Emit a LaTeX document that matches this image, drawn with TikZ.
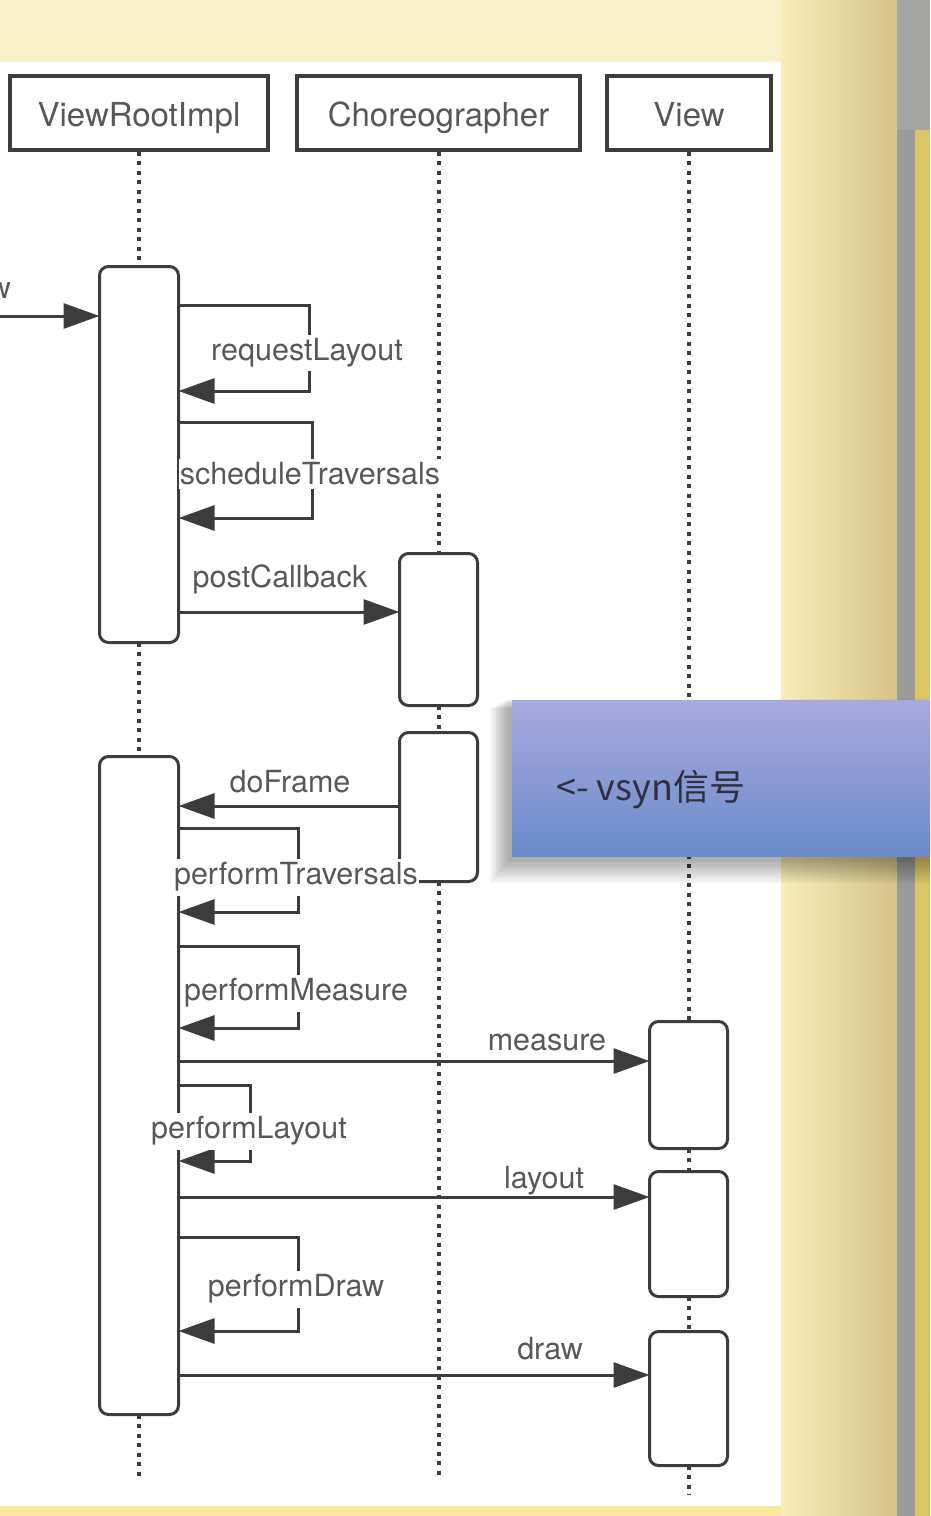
\documentclass[tikz,border=0pt]{standalone}
\usepackage{fontspec}
\setmainfont{TeX Gyre Heros}
\newfontfamily\cjk{Noto Sans CJK SC}
\usetikzlibrary{arrows.meta,calc}
\definecolor{ln}{HTML}{3C3C3C}
\definecolor{txt}{HTML}{585858}
\definecolor{bgtop}{HTML}{F8F0CA}
\definecolor{bgbot}{HTML}{FAE7A0}
\definecolor{frameR}{HTML}{D6C28A}
\definecolor{stripY}{HTML}{DCC664}
\definecolor{stripG}{HTML}{9A9A96}
\definecolor{vtop}{HTML}{A9A9DE}
\definecolor{vbot}{HTML}{6A8ACA}
\definecolor{vtxt}{HTML}{2E3040}
\tikzset{
  head/.style={draw=ln, line width=3.5pt, fill=white, font=\fontsize{33}{36}\selectfont, text=txt, minimum height=74pt, inner sep=0pt, text height=27pt, text depth=0pt},
  act/.style={draw=ln, line width=3pt, fill=white, rounded corners=9pt, minimum width=75pt, inner sep=0pt},
  life/.style={draw=ln, line width=4pt, dash pattern=on 4pt off 5.5pt},
  msg/.style={draw=ln, line width=3pt, -{Triangle[length=36pt,width=25pt]}},
  lbl/.style={font=\fontsize{30.5}{32}\selectfont, text=txt, fill=white, inner sep=1pt, inner ysep=4pt},
  lblt/.style={font=\fontsize{30.5}{32}\selectfont, text=txt, inner sep=1pt},
}
\begin{document}
\begin{tikzpicture}[x=1pt, y=-1pt]
\useasboundingbox (0,0) rectangle (930,1516);
% background frame
\shade[top color=bgtop, bottom color=bgbot] (0,0) rectangle (930,1516);
\shade[left color=bgbot!40!bgtop, right color=frameR] (781,0) rectangle (897,1516);
\fill[stripG] (897,0) rectangle (915,1516);
\fill[stripG!90] (897,0) rectangle (930,130);
\fill[stripY] (915,130) rectangle (930,1516);
\fill[white] (0,62) rectangle (781,1506);

% headers
\node[head, minimum width=258pt] (h1) at (139,113) {ViewRootImpl};
\node[head, minimum width=283pt] (h2) at (438.5,113) {Choreographer};
\node[head, minimum width=164pt] (h3) at (689,113) {View};

% end points of lifelines
\coordinate (e1) at (139,1478);
\coordinate (e2) at (438.5,1478);
\coordinate (e3) at (688.5,1495);
\coordinate (src) at (0,316);

% activations (positions)
\path
  node[act, minimum width=76pt, minimum height=373pt] (vri1) at (139,454.5) {}
  node[act, minimum height=149pt] (ch1) at (438.5,629.5) {}
  node[act, minimum width=76pt, minimum height=655pt] (vri2) at (139,1085.5) {}
  node[act, minimum height=146pt] (ch2) at (438.5,807) {}
  node[act, minimum height=124pt] (v1) at (688.5,1085) {}
  node[act, minimum height=122pt] (v2) at (688.5,1234) {}
  node[act, minimum height=131pt] (v3) at (688.5,1398.5) {};

% lifelines
\draw[life] (h1.south) -- (vri1.north);
\draw[life] (vri1.south) -- (vri2.north);
\draw[life] (vri2.south) -- (e1);
\draw[life] (h2.south -| ch1.north) -- (ch1.north);
\draw[life] (ch1.south) -- (ch2.north);
\draw[life] (ch2.south) -- (e2);
\draw[life] (h3.south -| v1.north) -- (v1.north);
\draw[life] (v1.south) -- (v2.north);
\draw[life] (v2.south) -- (v3.north);
\draw[life] (v3.south) -- (e3);

% redraw activations on top of lifelines
\foreach \n in {vri1,ch1,vri2,ch2,v1,v2,v3}{
  \draw[ln, line width=3pt, fill=white, rounded corners=9pt] (\n.south west) rectangle (\n.north east);
}

% incoming message
\node[lblt, anchor=base east] (w) at (12,298) {w};
\draw[msg] (src) -- (vri1.west |- src);

% self messages and calls
\draw[msg] (vri1.east |- 0,305) -- ++(131,0) |- (vri1.east |- 0,391);
\node[lbl] (l1) at (307,353) {requestLayout};
\draw[msg] (vri1.east |- 0,422) -- ++(134,0) |- (vri1.east |- 0,518);
\node[lbl] (l2) at (310,474) {scheduleTraversals};
\draw[msg] (vri1.east |- 0,612) -- (ch1.west |- 0,612);
\node[lblt] (l3) at (280,579) {postCallback};

\draw[msg] (ch2.west |- 0,806) -- (vri2.east |- 0,806);
\node[lblt] (l4) at (290,782) {doFrame};
\draw[msg] (vri2.east |- 0,828) -- ++(120,0) |- (vri2.east |- 0,912);
\node[lbl] (l5) at (296,877) {performTraversals};
\draw[msg] (vri2.east |- 0,946) -- ++(120,0) |- (vri2.east |- 0,1028);
\node[lbl] (l6) at (296,993) {performMeasure};
\draw[msg] (vri2.east |- 0,1061) -- (v1.west |- 0,1061);
\node[lblt] (l7) at (547,1042) {measure};
\draw[msg] (vri2.east |- 0,1085) -- ++(72,0) |- (vri2.east |- 0,1161);
\node[lbl] (l8) at (249,1131) {performLayout};
\draw[msg] (vri2.east |- 0,1197) -- (v2.west |- 0,1197);
\node[lblt] (l9) at (544,1181) {layout};
\draw[msg] (vri2.east |- 0,1237) -- ++(120,0) |- (vri2.east |- 0,1331);
\node[lbl] (l10) at (296,1289) {performDraw};
\draw[msg] (vri2.east |- 0,1375) -- (v3.west |- 0,1375);
\node[lblt] (l11) at (550,1349) {draw};

% vsyn overlay with soft shadow
\foreach \i in {1,...,10}{
  \fill[black, opacity=0.035] (512-2*\i-2,700+\i-2) rectangle (930,856+2.5*\i+2);
}
\node[anchor=north west, minimum width=418pt, minimum height=156pt, inner sep=0pt, top color=vtop, bottom color=vbot] (vs) at (512,700) {};
\node[anchor=west, text=vtxt, font=\cjk\fontsize{36}{40}\selectfont, inner sep=0pt] (vt) at (vs.west |- 0,790) {\hspace*{44pt}<- vsyn信号};
\end{tikzpicture}
\end{document}
